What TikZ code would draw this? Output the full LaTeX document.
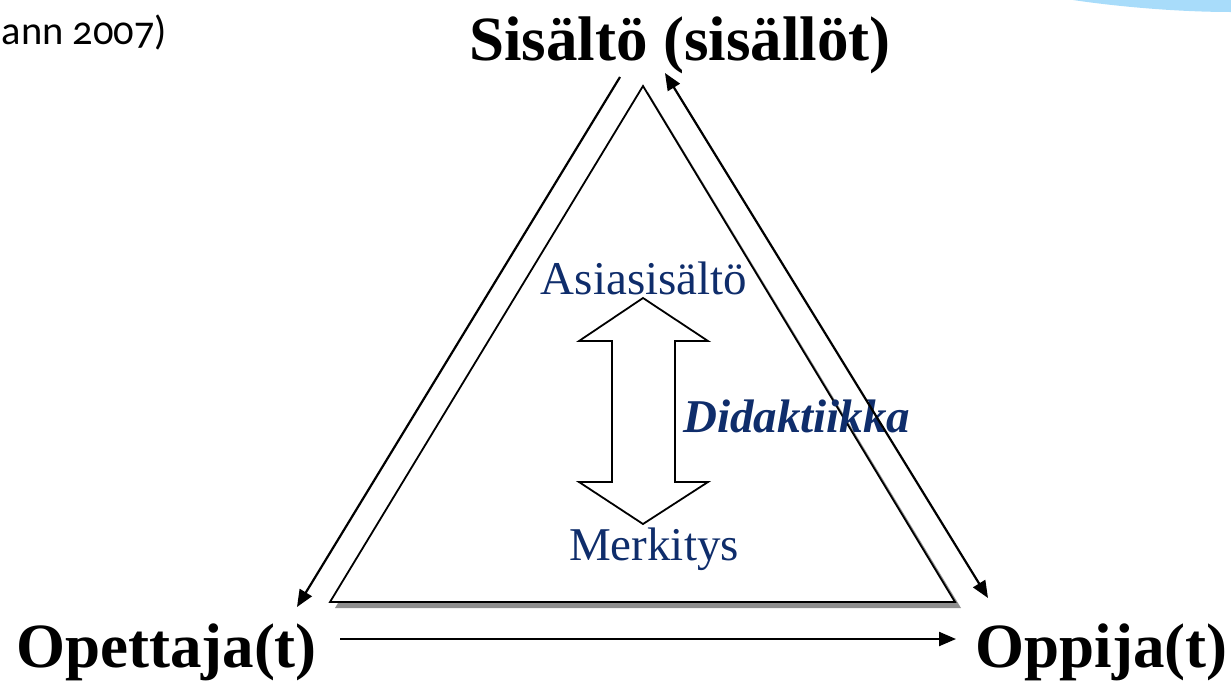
\documentclass[tikz,border=0pt]{standalone}
\usepackage{fontspec}
\setmainfont{Liberation Serif}
\newfontfamily\notesans[Numbers=OldStyle]{Carlito}
\usetikzlibrary{arrows.meta}
\definecolor{navy}{HTML}{0F2D6B}
\definecolor{swoosh}{HTML}{A8DCFA}
\definecolor{shadowgray}{HTML}{8F8F8F}
\begin{document}
\begin{tikzpicture}[x=1pt,y=-1pt,
  bigbold/.style={inner sep=0pt, font=\fontsize{63}{70}\selectfont\bfseries},
  innertext/.style={inner sep=0pt, text=navy, font=\fontsize{47}{52}\selectfont},
  conn/.style={line width=2.2pt, -{Triangle[length=17pt,width=14pt]}},
  conn2/.style={line width=2.2pt, {Triangle[length=17pt,width=14pt]}-{Triangle[length=17pt,width=14pt]}},
  tri/.style={line width=1.8pt, fill=white, line join=miter},
  blockarrow/.style={line width=1.8pt, fill=white, line join=miter}]
\useasboundingbox (0,0) rectangle (1231,681);
% light blue swoosh top right
\fill[swoosh] (1073,0) .. controls (1120,7) and (1180,12) .. (1231,12) -- (1231,0) -- cycle;
% note text at the left edge
\node[inner sep=0pt, anchor=base west, font=\notesans\fontsize{40.5}{48}\selectfont] (note) at (1.5,44) {ann 2007)};
% corner labels
\node[bigbold, anchor=base] (sis) at (680,60) {Sisältö (sisällöt)};
\node[bigbold, anchor=base] (ope) at (166.5,667) {Opettaja(t)};
\node[bigbold, anchor=base] (opp) at (1101.5,667) {Oppija(t)};
% triangle with shadow
\fill[shadowgray] (648,92) -- (961,608) -- (335,608) -- cycle;
\draw[tri] (643,86) -- (955,602) -- (330,602) -- cycle;
% inner texts
\node[innertext, anchor=base] (asia) at (644,294) {Asiasisältö};
\node[innertext, anchor=base] (merk) at (654,560) {Merkitys};
\node[innertext, anchor=base west, font=\fontsize{47}{52}\selectfont\bfseries\itshape] (dida) at (683,432) {Didaktiikka};
% block double arrow
\draw[blockarrow] (643,298) -- (708,341) -- (675,341) -- (675,482) -- (708,482) -- (643,524)
  -- (579,482) -- (612,482) -- (612,341) -- (579,341) -- cycle;
% connectors
\coordinate (sisL) at (620,77);
\coordinate (opeT) at (297,607);
\coordinate (sisR) at (665,73);
\coordinate (oppT) at (988,598);
\coordinate (opeR) at (340,639);
\coordinate (oppL) at (956,639);
\draw[conn] (sisL) -- (opeT);
\draw[conn2] (sisR) -- (oppT);
\draw[conn] (opeR) -- (oppL);
\end{tikzpicture}
\end{document}
